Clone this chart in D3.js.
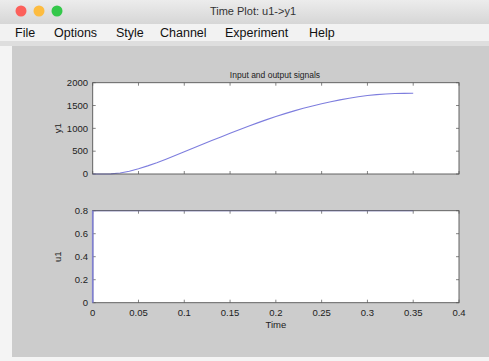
<!DOCTYPE html>
<html>
<head>
<meta charset="utf-8">
<script src="https://cdn.jsdelivr.net/npm/d3@7"></script>
<style>
  body { margin: 0; background: #f4f4f4; }
  svg { display: block; font-family: "Liberation Sans", Arial, sans-serif; }
</style>
</head>
<body>
<svg id="win"></svg>
<script>
// window size
var width = 489;
var height = 361;

// menu items along the top
var menuItems = ["File", "Options", "Style", "Channel", "Experiment", "Help"];

// sample times and output y1
var times = [0, 0.01, 0.02, 0.03, 0.04, 0.05, 0.06, 0.07, 0.08, 0.09, 0.10, 0.11, 0.12,
  0.13, 0.14, 0.15, 0.16, 0.17, 0.18, 0.19, 0.20, 0.21, 0.22, 0.23, 0.24, 0.25, 0.26,
  0.27, 0.28, 0.29, 0.30, 0.31, 0.32, 0.33, 0.34, 0.35];
var y1Values = [0, 0, 2, 22, 62, 115, 178, 248, 325, 405, 487, 570, 652,
  733, 813, 892, 970, 1046, 1120, 1191, 1259, 1323, 1383, 1439, 1491, 1539, 1583,
  1623, 1659, 1691, 1718, 1739, 1754, 1763, 1767, 1768];
// input u1 is a step
var u1Times = [0, 0, 0.35];
var u1Values = [0, 0.8, 0.8];

var xTicks = [0, 0.05, 0.1, 0.15, 0.2, 0.25, 0.3, 0.35, 0.4];
var y1Ticks = [0, 500, 1000, 1500, 2000];
var u1Ticks = [0, 0.2, 0.4, 0.6, 0.8];

var svg = d3.select("#win").attr("width", width).attr("height", height);

// title bar
var grad = svg.append("defs").append("linearGradient")
  .attr("id", "tb").attr("x1", 0).attr("y1", 0).attr("x2", 0).attr("y2", 1);
grad.append("stop").attr("offset", "0%").attr("stop-color", "#ececec");
grad.append("stop").attr("offset", "100%").attr("stop-color", "#d6d6d6");
svg.append("rect").attr("width", width).attr("height", 24).attr("fill", "url(#tb)");
[["#fc605b", 21], ["#fdbc40", 39], ["#34c84a", 57]].forEach(function (c) {
  svg.append("circle").attr("cx", c[1]).attr("cy", 11).attr("r", 5.5).attr("fill", c[0]);
});
svg.append("text").attr("x", 253).attr("y", 15).attr("text-anchor", "middle")
  .attr("font-size", 11).attr("fill", "#333").text("Time Plot: u1->y1");

// menu bar
svg.append("rect").attr("y", 24).attr("width", width).attr("height", 17).attr("fill", "#f2f2f2");
var menuX = [15, 54, 116, 160, 225, 309];
svg.selectAll(".menu").data(menuItems).enter().append("text")
  .attr("x", (d, i) => menuX[i]).attr("y", 37)
  .attr("font-size", 12.5).attr("fill", "#111").text(d => d);
svg.append("rect").attr("y", 41).attr("width", width).attr("height", 5).attr("fill", "#dedede");

// grey figure area
svg.append("rect").attr("x", 12).attr("y", 46).attr("width", width - 12).attr("height", 311)
  .attr("fill", "#cccccc");

var x = d3.scaleLinear().domain([0, 0.4]).range([92.7, 459]);

function panel(top, bottom, yDomain, yTicks, yFmt, label, xs, ys, showX) {
  var y = d3.scaleLinear().domain(yDomain).range([bottom, top]);
  var g = svg.append("g");
  g.append("rect").attr("x", x(0)).attr("y", top)
    .attr("width", x(0.4) - x(0)).attr("height", bottom - top).attr("fill", "#fff");
  // ticks pointing inwards on all four sides
  g.selectAll(".xt").data(xTicks).enter().append("path")
    .attr("d", d => "M" + x(d) + "," + bottom + "v-3M" + x(d) + "," + top + "v3")
    .attr("stroke", "#666").attr("stroke-width", 0.8);
  g.selectAll(".yt").data(yTicks).enter().append("path")
    .attr("d", d => "M" + x(0) + "," + y(d) + "h3M" + x(0.4) + "," + y(d) + "h-3")
    .attr("stroke", "#666").attr("stroke-width", 0.8);
  g.selectAll(".yl").data(yTicks).enter().append("text")
    .attr("x", 88).attr("y", d => y(d) + 3.2).attr("text-anchor", "end")
    .attr("font-size", 9.5).attr("fill", "#222").text(yFmt);
  if (showX) {
    g.selectAll(".xl").data(xTicks).enter().append("text")
      .attr("x", d => x(d)).attr("y", bottom + 13).attr("text-anchor", "middle")
      .attr("font-size", 9.5).attr("fill", "#222").text(d => d3.format("~g")(d));
  }
  g.append("text")
    .attr("transform", "translate(61," + ((top + bottom) / 2) + ") rotate(-90)")
    .attr("text-anchor", "middle").attr("font-size", 9.5).attr("fill", "#222").text(label);
  var line = d3.line().x((d, i) => x(xs[i])).y(d => y(d));
  g.append("path").datum(ys).attr("d", line).attr("fill", "none")
    .attr("stroke", "#7e7ede").attr("stroke-width", 1.1);
  g.append("rect").attr("x", x(0)).attr("y", top)
    .attr("width", x(0.4) - x(0)).attr("height", bottom - top)
    .attr("fill", "none").attr("stroke", "#555").attr("stroke-width", 0.9);
  return g;
}

panel(82.7, 174, [0, 2000], y1Ticks, d => d, "y1", times, y1Values, false);
panel(210.7, 302.7, [0, 0.8], u1Ticks, d => d3.format("~g")(d), "u1", u1Times, u1Values, true);

// redraw the u1 step over the frame so it shows on the left edge
svg.append("path")
  .attr("d", "M" + x(0) + "," + 302.7 + "V" + 210.7)
  .attr("stroke", "#8080d0").attr("stroke-width", 1.6);

svg.append("text").attr("x", 275).attr("y", 78).attr("text-anchor", "middle")
  .attr("font-size", 8.5).attr("fill", "#222").text("Input and output signals");
svg.append("text").attr("x", x(0.2)).attr("y", 328).attr("text-anchor", "middle")
  .attr("font-size", 9.5).attr("fill", "#222").text("Time");
</script>
</body>
</html>
